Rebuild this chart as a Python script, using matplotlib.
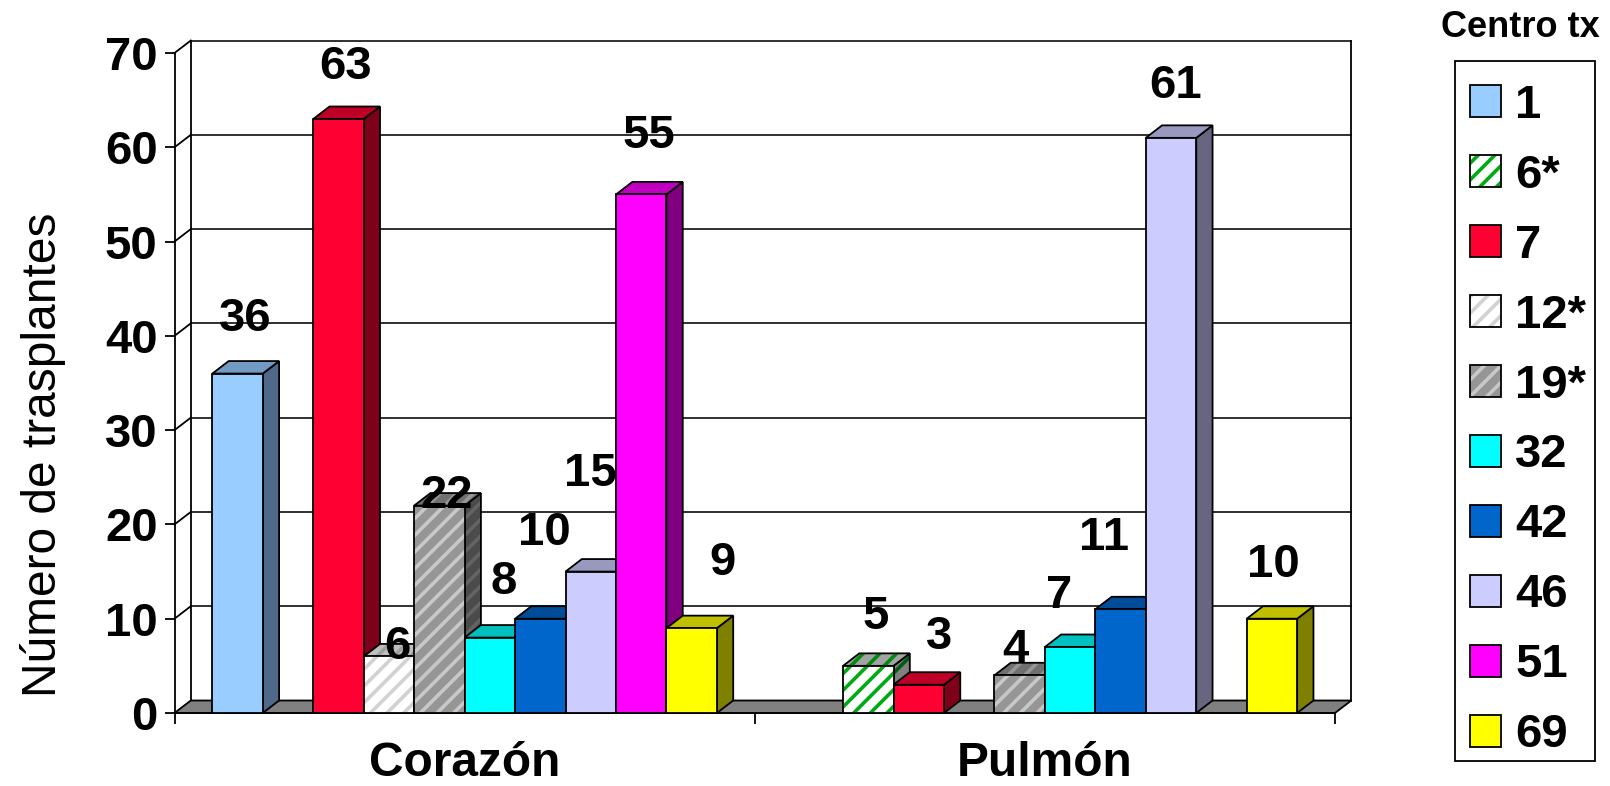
import matplotlib
matplotlib.use("Agg")
import matplotlib.pyplot as plt
from matplotlib.patches import Polygon, Patch, Rectangle
from matplotlib.legend_handler import HandlerTuple

plt.rcParams['font.family'] = ['Liberation Sans', 'DejaVu Sans']
plt.rcParams['hatch.linewidth'] = 2.6

# ---- data ----
organs = ['Corazón', 'Pulmón']
centers = ['1', '6*', '7', '12*', '19*', '32', '42', '46', '51', '69']
corazon = [36, None, 63, 6, 22, 8, 10, 15, 55, 9]
pulmon = [None, 5, 3, None, 4, 7, 11, 61, None, 10]
y_ticks = [0, 10, 20, 30, 40, 50, 60, 70]
y_title = 'Número de trasplantes'
legend_title = 'Centro tx'

# ---- styles: front, top, side, stripe colour (front), top stripe, side stripe ----
styles = {
    '1':   ('#99CCFF', '#729AC2', '#50698A', None, None, None),
    '6*':  ('#FFFFFF', '#A3A3A3', '#808080', '#00AA14', '#008A10', '#005C0A'),
    '7':   ('#FF0033', '#BF0026', '#7F0019', None, None, None),
    '12*': ('#FFFFFF', '#BFBFBF', '#808080', '#D2D2D2', '#A0A0A0', '#696969'),
    '19*': ('#969696', '#707070', '#4B4B4B', '#C8C8C8', '#969696', '#646464'),
    '32':  ('#00FFFF', '#00BFBF', '#008080', None, None, None),
    '42':  ('#0066CC', '#004C99', '#003366', None, None, None),
    '46':  ('#CCCCFF', '#9999BF', '#666680', None, None, None),
    '51':  ('#FF00FF', '#BF00BF', '#800080', None, None, None),
    '69':  ('#FFFF00', '#BFBF00', '#808000', None, None, None),
}
HATCH = '//'

# value-label offsets from bar top centre (pixels right, pixels up)
label_offsets = [
    {'1': (7.7, 54.5), '7': (7.5, 51.8), '12*': (8.5, 9.9), '19*': (7.4, 10), '32': (13.4, 55.5),
     '42': (4, 86.2), '46': (0, 97.5), '51': (8, 58.3), '69': (30.5, 65.5)},
    {'6*': (7.3, 48.9), '7': (20.5, 48.2), '19*': (-4.3, 25.5), '32': (-10.6, 51.5),
     '42': (-16.8, 71.5), '46': (4.6, 52.1), '69': (1.8, 54.2)},
]

W, H = 1610, 786
DPI = 100
fig = plt.figure(figsize=(W / DPI, H / DPI), dpi=DPI, facecolor='white')
L, R, B, T = 174.5, 1335.0, 713.0, 53.0
ax = fig.add_axes([L / W, (H - B) / H, (R - L) / W, (B - T) / H])
ax.set_xlim(0, 2)
ax.set_ylim(0, 70)
ax.patch.set_visible(False)

px_x = 2 / (R - L)
px_y = 70 / (B - T)
DX = 16.3 * px_x
DY = 12.5 * px_y
LW = 1.3
bar_w = 1 / 11.5
side_gap = 0.75 * bar_w

for s in ['top', 'right']:
    ax.spines[s].set_visible(False)
for s in ['left', 'bottom']:
    ax.spines[s].set_linewidth(LW)
    ax.spines[s].set_zorder(2)

# back wall and floor
ax.add_patch(Polygon([(0, 0), (2, 0), (2 + DX, DY), (DX, DY)], closed=True, facecolor='#808080',
                     edgecolor='black', lw=LW, zorder=2, clip_on=False))
for v in y_ticks[1:]:
    ax.plot([DX, 2 + DX], [v + DY, v + DY], color='#202020', lw=LW, zorder=1, clip_on=False)
    ax.plot([0, DX], [v, v + DY], color='black', lw=LW, zorder=1, clip_on=False)
for xw in (DX, 2 + DX):
    ax.plot([xw, xw], [DY, 70 + DY], color='black', lw=LW, zorder=1, clip_on=False)


def face(pts, fc, stripe, z):
    if stripe:
        ax.add_patch(Polygon(pts, closed=True, facecolor=fc, edgecolor=stripe, hatch=HATCH, lw=0,
                             zorder=z, clip_on=False))
        ax.add_patch(Polygon(pts, closed=True, fill=False, edgecolor='black', lw=LW, zorder=z,
                             clip_on=False))
    else:
        ax.add_patch(Polygon(pts, closed=True, facecolor=fc, edgecolor='black', lw=LW, zorder=z,
                             clip_on=False))


z = 3.0
for g, values in enumerate([corazon, pulmon]):
    start = g + side_gap
    for i, (name, v) in enumerate(zip(centers, values)):
        if v is None:
            continue
        x0 = start + i * bar_w
        x1 = x0 + bar_w
        fc, tc, sc, stripe, tstripe, sstripe = styles[name]
        face([(x1, 0), (x1 + DX, DY), (x1 + DX, v + DY), (x1, v)], sc, sstripe, z)
        face([(x0, v), (x1, v), (x1 + DX, v + DY), (x0 + DX, v + DY)], tc, tstripe, z + 0.01)
        if stripe:
            ax.bar(x0, v, width=bar_w, align='edge', color=fc, edgecolor=stripe, hatch=HATCH, lw=0,
                   zorder=z + 0.02)
            ax.bar(x0, v, width=bar_w, align='edge', fill=False, edgecolor='black', lw=LW,
                   zorder=z + 0.03)
        else:
            ax.bar(x0, v, width=bar_w, align='edge', color=fc, edgecolor='black', lw=LW,
                   zorder=z + 0.02)
        z += 0.1

# value labels
for g, values in enumerate([corazon, pulmon]):
    start = g + side_gap
    for i, (name, v) in enumerate(zip(centers, values)):
        if v is None:
            continue
        ox, oy = label_offsets[g][name]
        ax.annotate(str(v), (start + (i + 0.5) * bar_w, v),
                    xytext=(ox * 72 / DPI, oy * 72 / DPI), textcoords='offset points',
                    ha='center', va='center', fontsize=34, fontweight='bold', color='black',
                    zorder=50, annotation_clip=False)

# axes ticks
ax.set_yticks(y_ticks)
ax.tick_params(axis='y', direction='out', length=7.2, width=LW, labelsize=34, pad=5)
for lab in ax.get_yticklabels():
    lab.set_fontweight('bold')
ax.set_xticks([0.5, 1.5])
ax.set_xticklabels(organs, fontsize=34.5, fontweight='bold')
ax.set_xticks([0, 1, 2], minor=True)
ax.tick_params(axis='x', which='major', length=0, pad=20)
ax.tick_params(axis='x', which='minor', direction='out', length=7.8, width=LW)

fig.text(43 / W, 1 - 455 / H, y_title, rotation=90, ha='center', va='center', fontsize=34.5)
fig.text(1520 / W, 1 - 27.5 / H, legend_title, ha='center', va='center', fontsize=26,
         fontweight='bold')

# legend: frame drawn separately so its height can follow the reference
fig.add_artist(Rectangle((1455 / W, 1 - 761 / H), 140 / W, 700 / H, transform=fig.transFigure,
                         facecolor='white', edgecolor='black', lw=LW, zorder=-1))
handles = []
for name in centers:
    fc, tc, sc, stripe, tstripe, sstripe = styles[name]
    if stripe:
        handles.append((Patch(facecolor=fc, edgecolor=stripe, hatch=HATCH, lw=0),
                        Patch(fill=False, edgecolor='black', lw=LW)))
    else:
        handles.append(Patch(facecolor=fc, edgecolor='black', lw=LW))
leg = ax.legend(handles, centers, loc='upper left', bbox_to_anchor=(1455 / W, 1 - 68.5 / H),
                bbox_transform=fig.transFigure, borderaxespad=0, frameon=False,
                prop={'size': 34, 'weight': 'bold'}, handlelength=0.66, handleheight=0.66,
                handletextpad=0.3, labelspacing=0.55, borderpad=0.32,
                handler_map={tuple: HandlerTuple(ndivide=1, pad=0)})
leg.set_zorder(60)

fig.savefig('out.png', dpi=DPI, facecolor='white')
